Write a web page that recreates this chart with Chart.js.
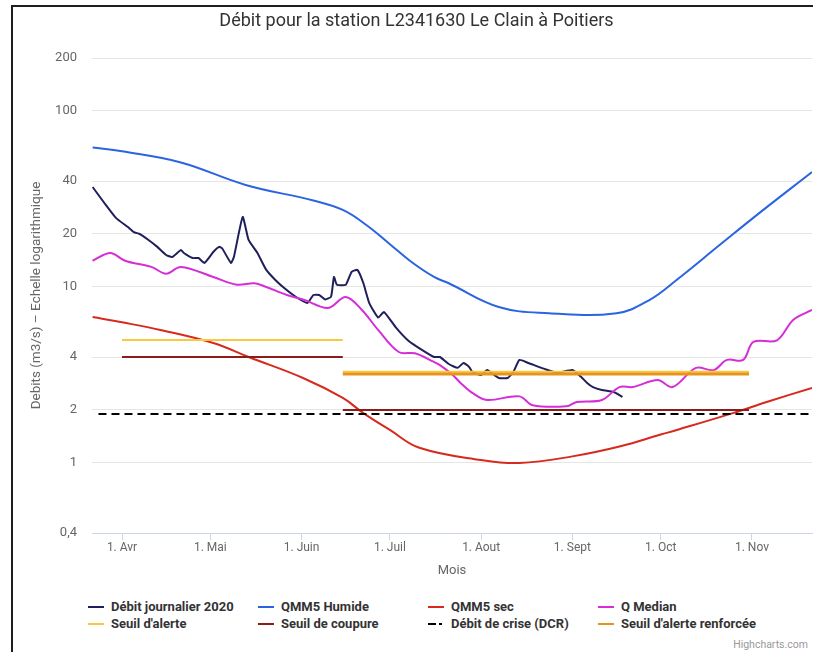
<!DOCTYPE html>
<html>
<head>
<meta charset="utf-8">
<script src="https://cdn.jsdelivr.net/npm/chart.js@4.4.0/dist/chart.umd.min.js"></script>
<style>
  body { margin: 0; background: #fff; font-family: Roboto, sans-serif; }
  #frame { position: absolute; left: 11px; top: 5px; width: 812px; height: 660px; border-left: 2px solid #1e1e1e; border-top: 2px solid #1e1e1e; }
  #wrap { position: absolute; left: 0; top: 0; width: 813px; height: 590px; }
  #legend { position: absolute; left: 88px; top: 598px; display: grid; grid-template-columns: repeat(4, 170px); font: bold 13px Roboto, sans-serif; color: #333; }
  .item { display: flex; align-items: center; height: 17px; white-space: nowrap; }
  .sym { width: 16px; height: 2px; margin-right: 7px; flex: none; }
  #credits { position: absolute; right: 5px; top: 638px; font: 10.5px Roboto, sans-serif; color: #999; }
</style>
</head>
<body>
<div id="frame"></div>
<div id="wrap"><canvas id="chart"></canvas></div>
<div id="legend"></div>
<div id="credits">Highcharts.com</div>
<script>
// days counted from 1 April 2020
const monthDays = [0, 30, 61, 91, 122, 153, 183, 214];
const monthLabels = ['1. Avr', '1. Mai', '1. Juin', '1. Juil', '1. Aout', '1. Sept', '1. Oct', '1. Nov'];
const yTicks = [0.4, 1, 2, 4, 10, 20, 40, 100, 200];

const debitDays = [-10, -6, -2, 2, 4, 6, 9, 12, 15, 17, 20, 21, 24, 26, 28, 31, 33, 34, 37, 38,
  41, 43, 46, 49, 52, 55, 59, 63, 65, 67, 69, 71, 72, 73, 76, 78, 80, 82, 84, 87,
  89, 93, 97, 100, 106, 108, 111, 114, 116, 118, 119, 122, 124, 128, 131, 133, 135, 138, 144, 148,
  153, 156, 158, 160, 163, 167, 169, 170];
const debitValues = [37, 30, 24.6, 21.9, 20.5, 20, 18.5, 16.9, 15.2, 14.8, 16.2, 15.6, 14.6, 14.6, 13.7, 15.8, 16.9, 16.6, 13.7, 14.8,
  25, 18.5, 15.6, 12.5, 11, 9.9, 8.8, 8.1, 9, 9, 8.5, 8.8, 11.4, 10.3, 10.3, 12.2, 12.5, 10.5, 8.1, 6.7,
  7.2, 5.9, 5, 4.6, 4, 4, 3.65, 3.47, 3.7, 3.5, 3.3, 3.16, 3.37, 3.04, 3.04, 3.3, 3.85, 3.7, 3.4, 3.25,
  3.37, 3.08, 2.85, 2.7, 2.6, 2.53, 2.43, 2.37];

const humideDays = [-10, 0, 20, 42, 65, 75, 83, 91, 98, 106, 111, 128, 145, 168, 179, 188.5, 203, 217, 234.4];
const humideValues = [62, 59, 51, 38, 31, 27.4, 22.5, 17.5, 14, 11.4, 10.5, 7.7, 7.1, 7.1, 8.4, 11, 17.3, 26.7, 45];

const secDays = [-10, 0, 13, 31, 43, 61.5, 75, 82, 91, 101, 122, 135, 153, 169, 183, 188.5, 207.5, 219, 234.4];
const secValues = [6.75, 6.3, 5.7, 4.8, 4.0, 3.04, 2.34, 1.92, 1.54, 1.22, 1.04, 1.0, 1.09, 1.24, 1.45, 1.54, 1.92, 2.22, 2.67];

const medianDays = [-10, -4, 1, 10, 15, 20, 31, 39, 45, 49, 56, 62, 70, 76, 81.5, 87, 94, 99.5, 106, 108,
  112, 115, 119, 124, 135, 139.5, 151, 154.5, 163, 169, 173.5, 182, 187, 195, 201, 205.5, 211, 214.5, 222.5, 228, 234.4];
const medianValues = [14.1, 15.6, 14.1, 13, 11.9, 13, 11.4, 10.3, 10.5, 10, 9, 8.43, 7.6, 8.77, 7.4, 5.7, 4.27, 4.2, 3.75, 3.6,
  3.2, 2.85, 2.5, 2.28, 2.39, 2.13, 2.1, 2.22, 2.28, 2.7, 2.7, 2.96, 2.7, 3.47, 3.37, 3.85, 3.85, 4.87, 4.98, 6.5, 7.4];

// arrete periods: 1 avril - 15 juin, 15 juin - 31 oct
const periodStart = [0, 75];
const periodEnd = [75, 213];
const alerte = [5, 3.3];
const coupure = [4, 2];
const renforcee = [null, 3.2];
const dcrDays = [-8, 236];
const dcr = 1.9;

const toPoints = (days, values) => days.map((d, i) => ({ x: d, y: values[i] }));
const stepPoints = (levels) => {
  const pts = [];
  levels.forEach((v, i) => {
    if (v == null) return;
    pts.push({ x: periodStart[i], y: v }, { x: periodEnd[i], y: v }, { x: periodEnd[i], y: null });
  });
  return pts;
};

const line = (label, data, color, extra) => Object.assign({
  label: label, data: data, borderColor: color, backgroundColor: color,
  borderWidth: 2, pointRadius: 0, fill: false, spanGaps: false, tension: 0
}, extra || {});

const datasets = [
  line('Débit journalier 2020', toPoints(debitDays, debitValues), '#1f1f5a', { tension: 0.15 }),
  line('QMM5 Humide', toPoints(humideDays, humideValues), '#2a64e0', { tension: 0.4 }),
  line('QMM5 sec', toPoints(secDays, secValues), '#d62a1e', { tension: 0.4 }),
  line('Q Median', toPoints(medianDays, medianValues), '#d62ed6', { tension: 0.35 }),
  line("Seuil d'alerte", stepPoints(alerte), '#f7c840'),
  line('Seuil de coupure', stepPoints(coupure), '#8b1c1c'),
  line('Débit de crise (DCR)', dcrDays.map(d => ({ x: d, y: dcr })), '#000000', { borderDash: [8, 5] }),
  line("Seuil d'alerte renforcée", stepPoints(renforcee), '#e8931a', { borderWidth: 3 })
];
// later series on top, like the original
datasets.forEach((ds, i) => { ds.order = datasets.length - i; });

Chart.defaults.font.family = 'Roboto, sans-serif';

const chart = new Chart(document.getElementById('chart'), {
  type: 'line',
  data: { datasets: datasets },
  options: {
    responsive: true,
    maintainAspectRatio: false,
    animation: false,
    layout: { padding: { left: 21, right: 1, top: 0, bottom: 0 } },
    plugins: {
      legend: { display: false },
      tooltip: { enabled: false },
      title: {
        display: true,
        text: 'Débit pour la station L2341630 Le Clain à Poitiers',
        color: '#333',
        font: { size: 18, weight: 'normal' },
        padding: { top: 11, bottom: 25.4 }
      }
    },
    scales: {
      x: {
        type: 'linear',
        min: -10.2,
        max: 234.4,
        afterBuildTicks: (s) => { s.ticks = monthDays.map(v => ({ value: v })); },
        afterFit: (s) => { s.height = 57; },
        ticks: {
          callback: (v, i) => monthLabels[i],
          autoSkip: false, maxRotation: 0, color: '#666', font: { size: 12 }, padding: 1
        },
        grid: { drawOnChartArea: false, drawTicks: true, tickLength: 7, color: '#ccd6eb' },
        border: { color: '#ccd6eb' },
        title: { display: true, text: 'Mois', color: '#666', font: { size: 13 }, padding: { bottom: 11 } }
      },
      y: {
        type: 'logarithmic',
        min: 0.4,
        max: 200,
        afterBuildTicks: (s) => { s.ticks = yTicks.map(v => ({ value: v })); },
        afterFit: (s) => { s.width = 71; },
        ticks: {
          callback: (v) => String(v).replace('.', ','),
          color: '#666', font: { size: 13 }, padding: 15
        },
        grid: { color: '#e6e6e6', drawTicks: false },
        border: { display: false },
        title: { display: true, text: 'Debits (m3/s) – Echelle logarithmique', color: '#666', font: { size: 13.5 }, padding: { top: 8 } }
      }
    }
  }
});

// legend in 4 columns, built from the datasets
const legendBox = document.getElementById('legend');
chart.data.datasets.forEach(ds => {
  const item = document.createElement('div');
  item.className = 'item';
  const sym = document.createElement('span');
  sym.className = 'sym';
  if (ds.borderDash) {
    sym.style.background = 'linear-gradient(to right, ' + ds.borderColor + ' 0 8px, transparent 8px 11px, ' + ds.borderColor + ' 11px 14px, transparent 14px)';
  } else {
    sym.style.background = ds.borderColor;
  }
  item.appendChild(sym);
  item.appendChild(document.createTextNode(ds.label));
  legendBox.appendChild(item);
});
</script>
</body>
</html>
